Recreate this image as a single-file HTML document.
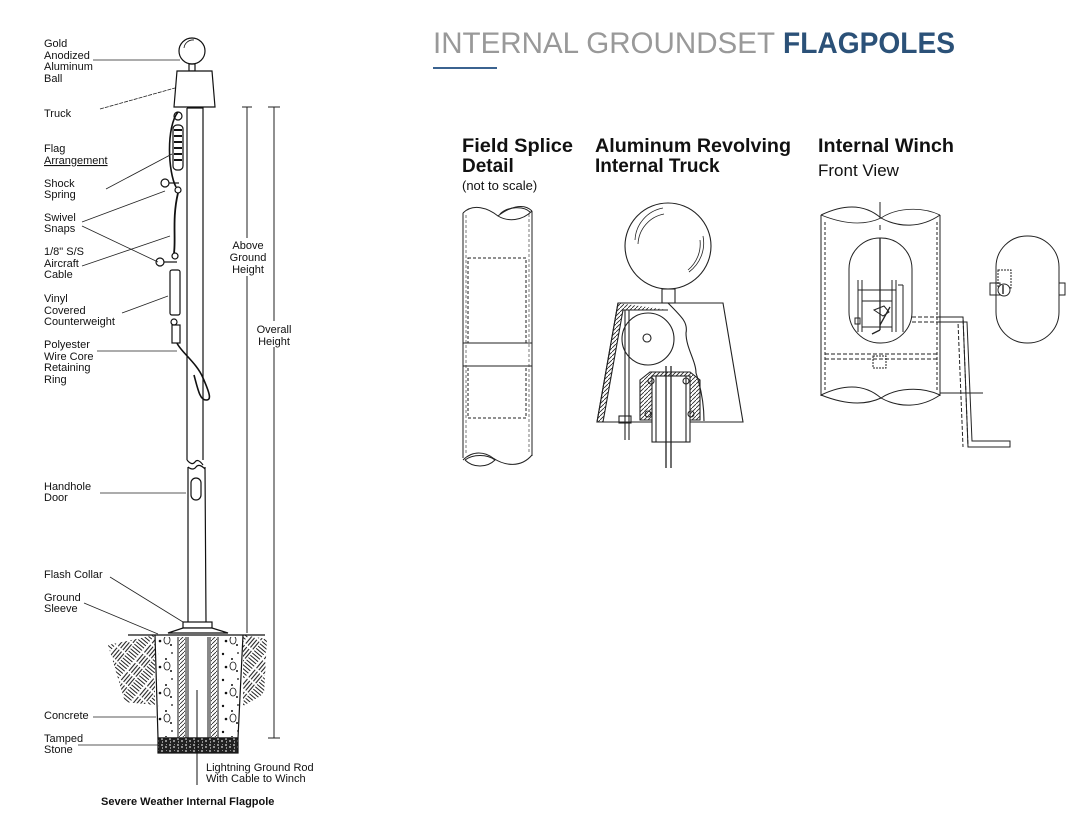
<!DOCTYPE html>
<html><head><meta charset="utf-8"><style>
html,body{margin:0;padding:0;background:#fff;}
svg{display:block;}
text{font-family:"Liberation Sans",Arial,sans-serif;fill:#111;}
.s{font-size:11px;}
</style></head><body>
<svg width="1090" height="828" viewBox="0 0 1090 828" xmlns="http://www.w3.org/2000/svg">
<defs>
<pattern id="weave" width="24" height="24" patternUnits="userSpaceOnUse" patternTransform="rotate(40)">
<g stroke="#222" stroke-width="1.1" fill="none">
<path d="M2 1v10M5 1v10M8 1v10M11 1v10"/>
<path d="M13 14h10M13 17h10M13 20h10M13 23h10"/>
<path d="M13 2h10M13 5h10M13 8h10M13 11h10"/>
<path d="M2 13v10M5 13v10M8 13v10M11 13v10"/>
</g>
</pattern>
<pattern id="gravel" width="8" height="6" patternUnits="userSpaceOnUse">
<rect width="8" height="6" fill="#222"/>
<path d="M1 1h2M5 3h2M2 4h1M6 0h1" stroke="#fff" stroke-width="1"/>
</pattern>
<pattern id="hatch" width="4" height="4" patternUnits="userSpaceOnUse">
<path d="M0 4L4 0" stroke="#222" stroke-width="0.8"/>
</pattern>
<pattern id="conc" width="22" height="26" patternUnits="userSpaceOnUse">
<circle cx="3" cy="4" r="1.2" fill="#111"/><circle cx="12" cy="9" r="1" fill="#111"/>
<circle cx="6" cy="17" r="1.3" fill="#111"/><circle cx="17" cy="21" r="1" fill="#111"/>
<circle cx="18" cy="3" r="0.9" fill="#111"/>
<ellipse cx="13" cy="16" rx="3" ry="4" fill="none" stroke="#111" stroke-width="0.8"/>
</pattern>
</defs>

<text x="433" y="53" font-size="30" style="fill:#999" textLength="342" lengthAdjust="spacingAndGlyphs">INTERNAL GROUNDSET</text>
<text x="783" y="53" font-size="30" font-weight="bold" style="fill:#2b5178" textLength="172" lengthAdjust="spacingAndGlyphs">FLAGPOLES</text>
<line x1="433" y1="68" x2="497" y2="68" stroke="#3b6390" stroke-width="2"/>

<g font-size="19" font-weight="bold">
<text x="462" y="152" textLength="111" lengthAdjust="spacingAndGlyphs">Field Splice</text>
<text x="462" y="172">Detail</text>
<text x="595" y="152" textLength="196" lengthAdjust="spacingAndGlyphs">Aluminum Revolving</text>
<text x="595" y="172">Internal Truck</text>
<text x="818" y="152" textLength="136" lengthAdjust="spacingAndGlyphs">Internal Winch</text>
</g>
<text x="818" y="176" font-size="17">Front View</text>
<text x="462" y="190" font-size="13">(not to scale)</text>

<g stroke="#111" fill="none" stroke-width="1.2">
<circle cx="192" cy="51" r="13" fill="#fff"/>
<path d="M184 48a9 9 0 0 1 10 -8" stroke-width="0.8"/>
<rect x="189" y="64" width="6" height="7"/>
<path d="M177 71h35l3 36h-41z" fill="#fff"/>
<path d="M187 108h16v352M187 108v352"/>
<path d="M187 460q5 6 8 2t8 3"/>
<path d="M188 467q5 4 8 0t9 2"/>
<path d="M188 467v155M205 467l1 155"/>
<rect x="191" y="478" width="10" height="22" rx="5"/>
<rect x="183" y="622" width="29" height="6" fill="#fff"/>
<path d="M168 633l15 -5h29l16 5z" fill="#fff"/>
<path d="M178 112c-12 15 -10 60 -2 75" stroke-width="1.6"/>
<rect x="173" y="125" width="10" height="45" rx="4"/>
<path d="M174 130h8M174 136h8M174 142h8M174 148h8M174 154h8M174 160h8" stroke-width="2"/>
<circle cx="178" cy="116" r="4"/>
<circle cx="165" cy="183" r="4"/><path d="M169 183h10"/>
<circle cx="178" cy="190" r="3"/>
<path d="M178 193c-6 25 -2 45 -4 60" stroke-width="1.8"/>
<circle cx="175" cy="256" r="3"/>
<circle cx="160" cy="262" r="4"/><path d="M164 262h13"/>
<rect x="170" y="270" width="10" height="45" rx="2"/>
<circle cx="174" cy="322" r="3"/>
<rect x="172" y="325" width="8" height="18"/>
<path d="M177 343c3 8 20 20 26 35c8 18 8 22 3 22c-6 0 -8 -10 -12 -25" stroke-width="1.6"/>
</g>

<g stroke="#222" stroke-width="1">
<line x1="247" y1="107" x2="247" y2="633"/>
<line x1="242" y1="107" x2="252" y2="107"/>
<line x1="274" y1="107" x2="274" y2="738"/>
<line x1="268" y1="107" x2="280" y2="107"/>
<line x1="268" y1="738" x2="280" y2="738"/>
</g>
<rect x="228" y="238" width="40" height="38" fill="#fff"/>
<rect x="254" y="321" width="42" height="26" fill="#fff"/>
<g class="s" text-anchor="middle">
<text x="248" y="249" class="s">Above</text><text x="248" y="261" class="s">Ground</text><text x="248" y="273" class="s">Height</text>
<text x="274" y="333" class="s">Overall</text><text x="274" y="345" class="s">Height</text>
</g>

<path d="M108 645l47 -10v70l-30 -3z" fill="url(#weave)"/>
<path d="M243 635l24 4l-3 55l-21 12z" fill="url(#weave)"/>
<g stroke="#111" fill="none" stroke-width="1.2">
<line x1="128" y1="635" x2="265" y2="635"/>
<path d="M155 635l3 103h80l5 -103"/>
<rect x="158" y="738" width="80" height="15" fill="url(#gravel)"/>
</g>
<path d="M158 637h20v100h-20z" fill="url(#conc)"/>
<path d="M218 637h23l-3 100h-20z" fill="url(#conc)"/>
<rect x="179" y="637" width="6" height="100" fill="url(#hatch)"/>
<rect x="211" y="637" width="6" height="100" fill="url(#hatch)"/>
<g stroke="#111" stroke-width="1">
<path d="M178 637v101M186 637v101M188 637v101M208 637v101M210 637v101M218 637v101"/>
<line x1="197" y1="690" x2="197" y2="785"/>
</g>

<g stroke="#222" stroke-width="0.8" fill="none">
<path d="M93 60H180"/>
<path d="M100 109L175 88" stroke-dasharray="4 1"/>
<path d="M106 189L172 154"/>
<path d="M82 222L165 191"/>
<path d="M82 226L158 262"/>
<path d="M82 266L170 236"/>
<path d="M122 313L168 296"/>
<path d="M97 351H177"/>
<path d="M100 493H186"/>
<path d="M110 577L183 622"/>
<path d="M84 603L158 634"/>
<path d="M93 717H156"/>
<path d="M78 745H158"/>
</g>

<g class="s">
<text x="44" y="47">Gold</text><text x="44" y="59">Anodized</text><text x="44" y="70">Aluminum</text><text x="44" y="82">Ball</text>
<text x="44" y="117">Truck</text>
<text x="44" y="152">Flag</text><text x="44" y="164" text-decoration="underline">Arrangement</text>
<text x="44" y="187">Shock</text><text x="44" y="198">Spring</text>
<text x="44" y="221">Swivel</text><text x="44" y="232">Snaps</text>
<text x="44" y="255">1/8" S/S</text><text x="44" y="267">Aircraft</text><text x="44" y="278">Cable</text>
<text x="44" y="302">Vinyl</text><text x="44" y="314">Covered</text><text x="44" y="325">Counterweight</text>
<text x="44" y="348">Polyester</text><text x="44" y="360">Wire Core</text><text x="44" y="371">Retaining</text><text x="44" y="383">Ring</text>
<text x="44" y="490">Handhole</text><text x="44" y="501">Door</text>
<text x="44" y="578">Flash Collar</text>
<text x="44" y="601">Ground</text><text x="44" y="612">Sleeve</text>
<text x="44" y="719">Concrete</text>
<text x="44" y="742">Tamped</text><text x="44" y="753">Stone</text>
<text x="206" y="771">Lightning Ground Rod</text><text x="206" y="782">With Cable to Winch</text>
<text x="101" y="805" font-weight="bold">Severe Weather Internal Flagpole</text>
</g>

<g stroke="#222" fill="none" stroke-width="1">
<path d="M463 213c10 -10 25 -5 35 3c10 -8 25 -14 34 -5"/>
<path d="M498 216c10 6 24 5 34 -5" />
<path d="M500 214c8 -8 24 -8 30 -2"/>
<path d="M463 213v245M532 211v245"/>
<path d="M466 215v240M529 214v240" stroke-dasharray="3 2" stroke-width="0.6"/>
<rect x="468" y="258" width="58" height="85" stroke-dasharray="3 2"/>
<path d="M463 343h69M463 366h69"/>
<rect x="468" y="366" width="58" height="52" stroke-dasharray="3 2"/>
<path d="M463 460c10 -10 22 -8 30 -2c12 8 28 10 39 -3"/>
<path d="M465 460c8 8 22 8 30 0c-8 -6 -22 -6 -30 0"/>
</g>

<g stroke="#222" fill="none" stroke-width="1.1">
<circle cx="668" cy="246" r="43" fill="#fff"/>
<path d="M635 240a34 34 0 0 1 28 -32M638 244a32 32 0 0 1 26 -30" stroke-width="0.8"/>
<path d="M700 240a34 34 0 0 1 -12 30M703 236a36 36 0 0 1 -14 36" stroke-width="0.8"/>
<rect x="662" y="289" width="13" height="14"/>
<path d="M618 303h105l20 119h-146z"/>
<path d="M618 303l-21 119h6l20 -112h45" fill="url(#hatch)"/>
<path d="M668 303c15 15 20 20 18 30c0 15 10 28 10 40c5 15 8 30 8 48"/>
<circle cx="648" cy="339" r="26" fill="#fff"/>
<circle cx="647" cy="338" r="4"/>
<path d="M625 310v130M629 310v130"/>
<path d="M640 380l10 -8h40l10 8v40h-60z" fill="url(#hatch)"/>
<rect x="652" y="376" width="38" height="66" fill="#fff"/>
<path d="M656 376v66M686 376v66"/>
<circle cx="651" cy="381" r="3"/><circle cx="686" cy="381" r="3"/>
<circle cx="648" cy="414" r="3"/><circle cx="691" cy="414" r="3"/>
<path d="M666 366v102M671 366v102" stroke-width="1.3"/>
<rect x="619" y="416" width="12" height="7"/>
</g>

<g stroke="#222" fill="none" stroke-width="1">
<path d="M821 215c25 -12 45 -10 60 3c18 10 40 10 59 -3"/>
<path d="M821 215c25 10 45 10 60 3c15 -10 40 -12 59 -3" stroke-width="0.8"/>
<path d="M821 215v181M940 215v181"/>
<path d="M825 222v170M937 222v170" stroke-dasharray="3 2"/>
<path d="M821 395c25 -12 45 -10 60 3c18 10 40 10 59 -3"/>
<path d="M821 395c25 10 45 10 60 3c15 -10 40 -12 59 -3"/>
<line x1="880" y1="202" x2="880" y2="218"/>
<line x1="880" y1="225" x2="880" y2="230"/>
<rect x="849" y="238" width="63" height="105" rx="31"/>
<line x1="880" y1="238" x2="880" y2="330" stroke-width="1.3"/>
<path d="M858 280v52M862 280v52M892 280v52M896 280v52M903 285v47M898 285h5"/>
<path d="M858 290h38M862 301h30M862 327h30"/>
<path d="M880 325l10 -18M880 330l-8 4" stroke-width="1.3"/>
<path d="M874 310l10 -4l5 6l-6 4z"/>
<rect x="855" y="318" width="5" height="6"/>
<path d="M825 354h112M825 359h112" stroke-dasharray="4 2"/>
<rect x="873" y="356" width="13" height="12" stroke-dasharray="2 1"/>
<path d="M912 317h51l5 130M912 322h46l5 125" stroke-dasharray="4 2"/>
<path d="M940 317h23l5 130h42v-6h-38l-5 -119h-27"/>
<path d="M940 393h43"/>
<rect x="996" y="236" width="63" height="107" rx="31"/>
<rect x="990" y="283" width="10" height="12"/>
<rect x="1059" y="283" width="6" height="12"/>
<rect x="998" y="270" width="13" height="18" stroke-dasharray="2 1"/>
<circle cx="1004" cy="290" r="6" fill="#fff"/>
<line x1="1003" y1="285" x2="1003" y2="294" stroke-width="1.4"/>
</g>
</svg>
</body></html>
